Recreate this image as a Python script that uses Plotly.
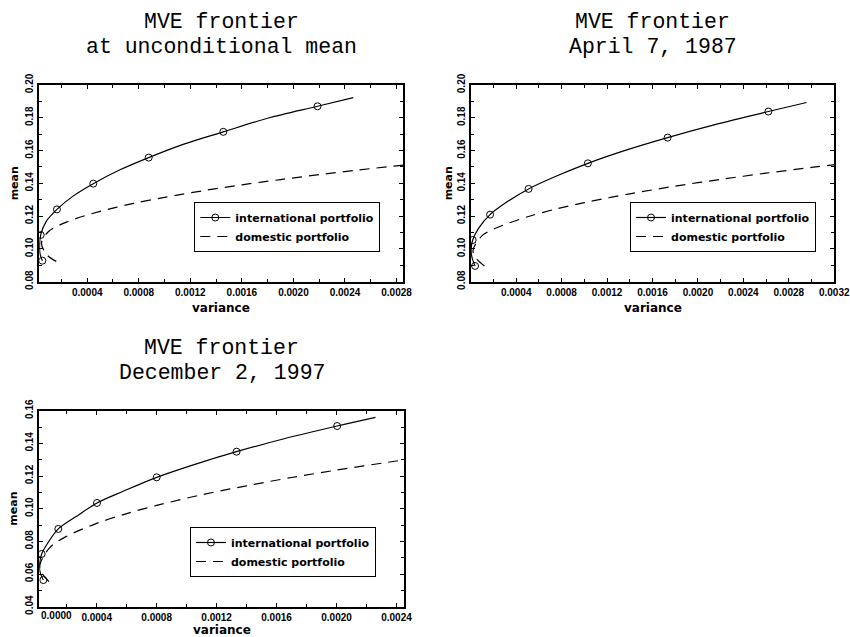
import plotly.graph_objects as go

# ---------------- data: (variance, mean) along each frontier ----------------
# Panel 1: at unconditional mean
p1_int_var = [0.000052, 0.000035, 0.00003, 0.000039, 0.00008, 0.000165, 0.00029, 0.000447,
              0.00065, 0.000877, 0.00115, 0.001456, 0.0018, 0.002187, 0.002464]
p1_int_mean = [0.0928, 0.0965, 0.1015, 0.1085, 0.1165, 0.1241, 0.1322, 0.1398,
               0.1481, 0.1557, 0.1639, 0.1714, 0.1797, 0.1870, 0.1923]
p1_int_circle = [1, 0, 0, 1, 0, 1, 0, 1, 0, 1, 0, 1, 0, 1, 0]
p1_dom_var = [0.00016, 0.00009, 0.000045, 0.0001, 0.00025, 0.0005, 0.00075, 0.001,
              0.0013, 0.0016, 0.0019, 0.0022, 0.0025, 0.0028, 0.0029]
p1_dom_mean = [0.0924, 0.0962, 0.1035, 0.1106, 0.1167, 0.1229, 0.1276, 0.1314,
               0.1355, 0.1391, 0.1423, 0.1453, 0.1481, 0.1507, 0.1516]

# Panel 2: April 7, 1987
p2_int_var = [0.000038, 0.000012, 0.000003, 0.000017, 0.00007, 0.00017, 0.00032, 0.000509,
              0.00075, 0.001031, 0.00136, 0.001733, 0.00215, 0.00262, 0.002956]
p2_int_mean = [0.0896, 0.0945, 0.0993, 0.1054, 0.1127, 0.1209, 0.1287, 0.1366,
               0.1443, 0.1522, 0.1601, 0.1679, 0.1758, 0.1838, 0.1893]
p2_int_circle = [1, 0, 0, 1, 0, 1, 0, 1, 0, 1, 0, 1, 0, 1, 0]
p2_dom_var = [0.00012, 0.00005, 0.00002, 0.0001, 0.00025, 0.0005, 0.00075, 0.001,
              0.0014, 0.0018, 0.0022, 0.0026, 0.003, 0.0033]
p2_dom_mean = [0.0896, 0.0940, 0.0990, 0.1081, 0.1135, 0.1196, 0.1243, 0.1282,
               0.1336, 0.1383, 0.1424, 0.1462, 0.1497, 0.1522]

# Panel 3: December 2, 1997
p3_int_var = [0.000044, 0.000025, 0.000018, 0.000033, 0.000074, 0.000144, 0.00026, 0.000402,
              0.00058, 0.0008, 0.00105, 0.001333, 0.00165, 0.002004, 0.00226]
p3_int_mean = [0.0563, 0.0602, 0.0650, 0.0723, 0.0790, 0.0876, 0.0950, 0.1035,
               0.1108, 0.1192, 0.1270, 0.1349, 0.1428, 0.1506, 0.1559]
p3_int_circle = [1, 0, 0, 1, 0, 1, 0, 1, 0, 1, 0, 1, 0, 1, 0]
p3_dom_var = [0.000082, 0.000036, 0.000021, 0.00009, 0.0002, 0.0004, 0.0006, 0.0008,
              0.0011, 0.0014, 0.0017, 0.002, 0.0024, 0.0025]
p3_dom_mean = [0.0553, 0.0604, 0.0656, 0.0765, 0.0831, 0.0910, 0.0970, 0.1020,
               0.1085, 0.1140, 0.1191, 0.1236, 0.1292, 0.1305]

panel_titles = [
    ("MVE frontier", "at unconditional mean"),
    ("MVE frontier", "April 7, 1987"),
    ("MVE frontier", "December 2, 1997"),
]
series_names = ["international portfolio", "domestic portfolio"]

# ---------------- styling ----------------
TICK_FONT = dict(family="Liberation Sans", size=10, color="black", weight="bold")
LABEL_FONT = dict(family="DejaVu Sans", size=12, color="black", weight="bold")
MEAN_FONT = dict(family="DejaVu Sans", size=11, color="black", weight="bold")
LEGEND_FONT = dict(family="DejaVu Sans", size=11, color="black", weight="bold")
TITLE_FONT = dict(family="Liberation Mono", size=21.5, color="black")

panels = [
    dict(iv=p1_int_var, im=p1_int_mean, ic=p1_int_circle, dv=p1_dom_var, dm=p1_dom_mean,
         xdom=[0.0462, 0.4741], ydom=[0.5578, 0.8666], xr=[0.000028, 0.00285], yr=[0.08, 0.20],
         leg=(0.2286, 0.6829), mean_x=0.0165, var_y=0.5165, t1=0.9655, t2=0.9262),
    dict(iv=p2_int_var, im=p2_int_mean, ic=p2_int_circle, dv=p2_dom_var, dm=p2_dom_mean,
         xdom=[0.5541, 0.9815], ydom=[0.5578, 0.8666], xr=[0.000002, 0.0032001], yr=[0.08, 0.20],
         leg=(0.7412, 0.6829), mean_x=0.5271, var_y=0.5165, t1=0.9655, t2=0.9262),
    dict(iv=p3_int_var, im=p3_int_mean, ic=p3_int_circle, dv=p3_dom_var, dm=p3_dom_mean,
         xdom=[0.0462, 0.4753], ydom=[0.0476, 0.3553], xr=[0.000017, 0.00245], yr=[0.04, 0.16],
         leg=(0.2235, 0.1727), mean_x=0.0165, var_y=0.0105, t1=0.4542, t2=0.4149),
]

fig = go.Figure()
annotations = []
layout_axes = {}

for i, p in enumerate(panels, start=1):
    sfx = "" if i == 1 else str(i)
    xa, ya = "x" + sfx, "y" + sfx
    leg = "legend" if i == 1 else "legend%d" % i
    circle_colors = ["black" if c else "rgba(0,0,0,0)" for c in p["ic"]]

    fig.add_trace(go.Scatter(
        x=p["iv"], y=p["im"], mode="lines+markers", name=series_names[0],
        line=dict(color="black", width=1.2, shape="spline", smoothing=0.9),
        marker=dict(symbol="circle-open", size=7, color=circle_colors, line=dict(width=1)),
        xaxis=xa, yaxis=ya, legend=leg, hoverinfo="skip",
    ))
    fig.add_trace(go.Scatter(
        x=p["dv"], y=p["dm"], mode="lines", name=series_names[1],
        line=dict(color="black", width=1.2, dash="10px,7px", shape="spline", smoothing=0.9),
        xaxis=xa, yaxis=ya, legend=leg, hoverinfo="skip",
    ))

    common = dict(showline=True, linewidth=2, linecolor="black", mirror="allticks",
                  ticks="inside", ticklen=4, tickwidth=1, tickcolor="black",
                  showgrid=False, zeroline=False, tickfont=TICK_FONT, automargin=False)
    layout_axes["xaxis" + sfx] = dict(
        common, domain=p["xdom"], range=p["xr"], anchor=ya,
        tick0=0, dtick=0.0004, tickformat=".4f",
        minor=dict(ticks="inside", dtick=0.0002, ticklen=3, tickcolor="black", showgrid=False),
    )
    layout_axes["yaxis" + sfx] = dict(
        common, domain=p["ydom"], range=p["yr"], anchor=xa,
        tick0=0, dtick=0.02, tickformat=".2f", tickangle=-90,
        minor=dict(ticks="inside", dtick=0.01, ticklen=3, tickcolor="black", showgrid=False),
    )
    layout_axes[leg] = dict(
        x=p["leg"][0], y=p["leg"][1], xanchor="left", yanchor="top",
        bgcolor="white", bordercolor="black", borderwidth=1, font=LEGEND_FONT,
        tracegroupgap=0, itemwidth=30,
    )

    # two-line panel title
    for text, ty in ((panel_titles[i - 1][0], p["t1"]), (panel_titles[i - 1][1], p["t2"])):
        annotations.append(dict(text=text, xref=xa + " domain", x=0.5, yref="paper", y=ty,
                                xanchor="center", yanchor="middle", showarrow=False,
                                font=TITLE_FONT))
    # axis labels
    annotations.append(dict(text="mean", xref="paper", x=p["mean_x"], yref=ya + " domain", y=0.5,
                            textangle=-90, xanchor="center", yanchor="middle", showarrow=False,
                            font=MEAN_FONT))
    annotations.append(dict(text="variance", xref=xa + " domain", x=0.5, yref="paper", y=p["var_y"],
                            xanchor="center", yanchor="middle", showarrow=False, font=LABEL_FONT))

# zero label on the last panel's variance axis sits just inside the frame
annotations.append(dict(text="0.0000", xref="x3", x=0.000135, yref="paper", y=0.0345,
                        xanchor="center", yanchor="middle", showarrow=False, font=TICK_FONT))

fig.update_layout(
    width=850, height=637,
    margin=dict(l=0, r=0, t=0, b=0, autoexpand=False),
    paper_bgcolor="white", plot_bgcolor="white",
    showlegend=True,
    annotations=annotations,
    **layout_axes,
)

fig.write_html("out.html")
